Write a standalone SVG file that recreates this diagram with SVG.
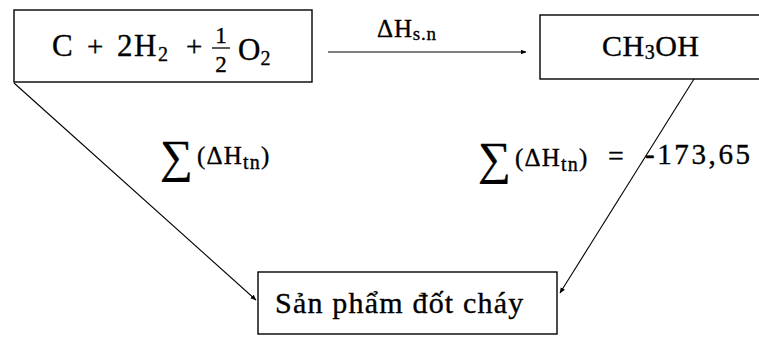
<svg xmlns="http://www.w3.org/2000/svg" width="759" height="352" viewBox="0 0 759 352">
<defs>
<style>
text{font-family:'Liberation Serif','DejaVu Serif','Times New Roman',serif;fill:#000;stroke:#000;stroke-width:0.35}
.box{fill:#fff;stroke:#000;stroke-width:1.4}
.c{stroke:#000;stroke-width:1.1;fill:none;marker-end:url(#ah)}
</style>
<marker id="ah" viewBox="0 0 10 10" refX="9" refY="5" markerWidth="6" markerHeight="6" markerUnits="userSpaceOnUse" orient="auto">
<path d="M0,1 L10,5 L0,9 Z" fill="#000"/>
</marker>
</defs>
<rect width="759" height="352" fill="#fff"/>
<g id="connectors">
<line class="c" x1="328" y1="52" x2="526" y2="52"/>
<line class="c" x1="14" y1="83" x2="256" y2="300"/>
<line class="c" x1="694" y1="79" x2="560" y2="293"/>
<text x="377" y="37" font-size="25" letter-spacing="0.8">ΔH<tspan font-size="19" dy="3">s.n</tspan></text>
<text x="160" y="172" font-size="46">∑</text>
<text x="197" y="164" font-size="25" letter-spacing="1.2">(ΔH<tspan font-size="20" dy="5">tn</tspan><tspan dy="-5">)</tspan></text>
<text x="478" y="174" font-size="46">∑</text>
<text x="515" y="166" font-size="25" letter-spacing="1.2">(ΔH<tspan font-size="20" dy="5">tn</tspan><tspan dy="-5">)</tspan></text>
<text x="608" y="165" font-size="28">=</text>
<text x="645" y="164" font-size="29" letter-spacing="2.6">-173,65</text>
</g>
<g id="reactants">
<rect class="box" x="14" y="10" width="298" height="72"/>
<text x="52" y="56" font-size="31">C</text>
<text x="87" y="56" font-size="29">+</text>
<text x="117" y="56" font-size="31" letter-spacing="1.5">2H<tspan font-size="20" dy="5">2</tspan></text>
<text x="186" y="56" font-size="29">+</text>
<text x="221" y="43" font-size="23" text-anchor="middle">1</text>
<line x1="212" y1="48" x2="230" y2="48" stroke="#000" stroke-width="1.3"/>
<text x="221" y="72" font-size="23" text-anchor="middle">2</text>
<text x="238" y="60" font-size="31">O<tspan font-size="20" dy="5">2</tspan></text>
</g>
<g id="methanol">
<rect class="box" x="540" y="15" width="222" height="64"/>
<text x="602" y="56" font-size="30" letter-spacing="0.5">CH<tspan font-size="20" dy="3">3</tspan><tspan dy="-3">OH</tspan></text>
</g>
<g id="products">
<rect class="box" x="258" y="272" width="299" height="62"/>
<text x="275" y="313" font-size="30" letter-spacing="1.2">Sản phẩm đốt cháy</text>
</g>
</svg>
